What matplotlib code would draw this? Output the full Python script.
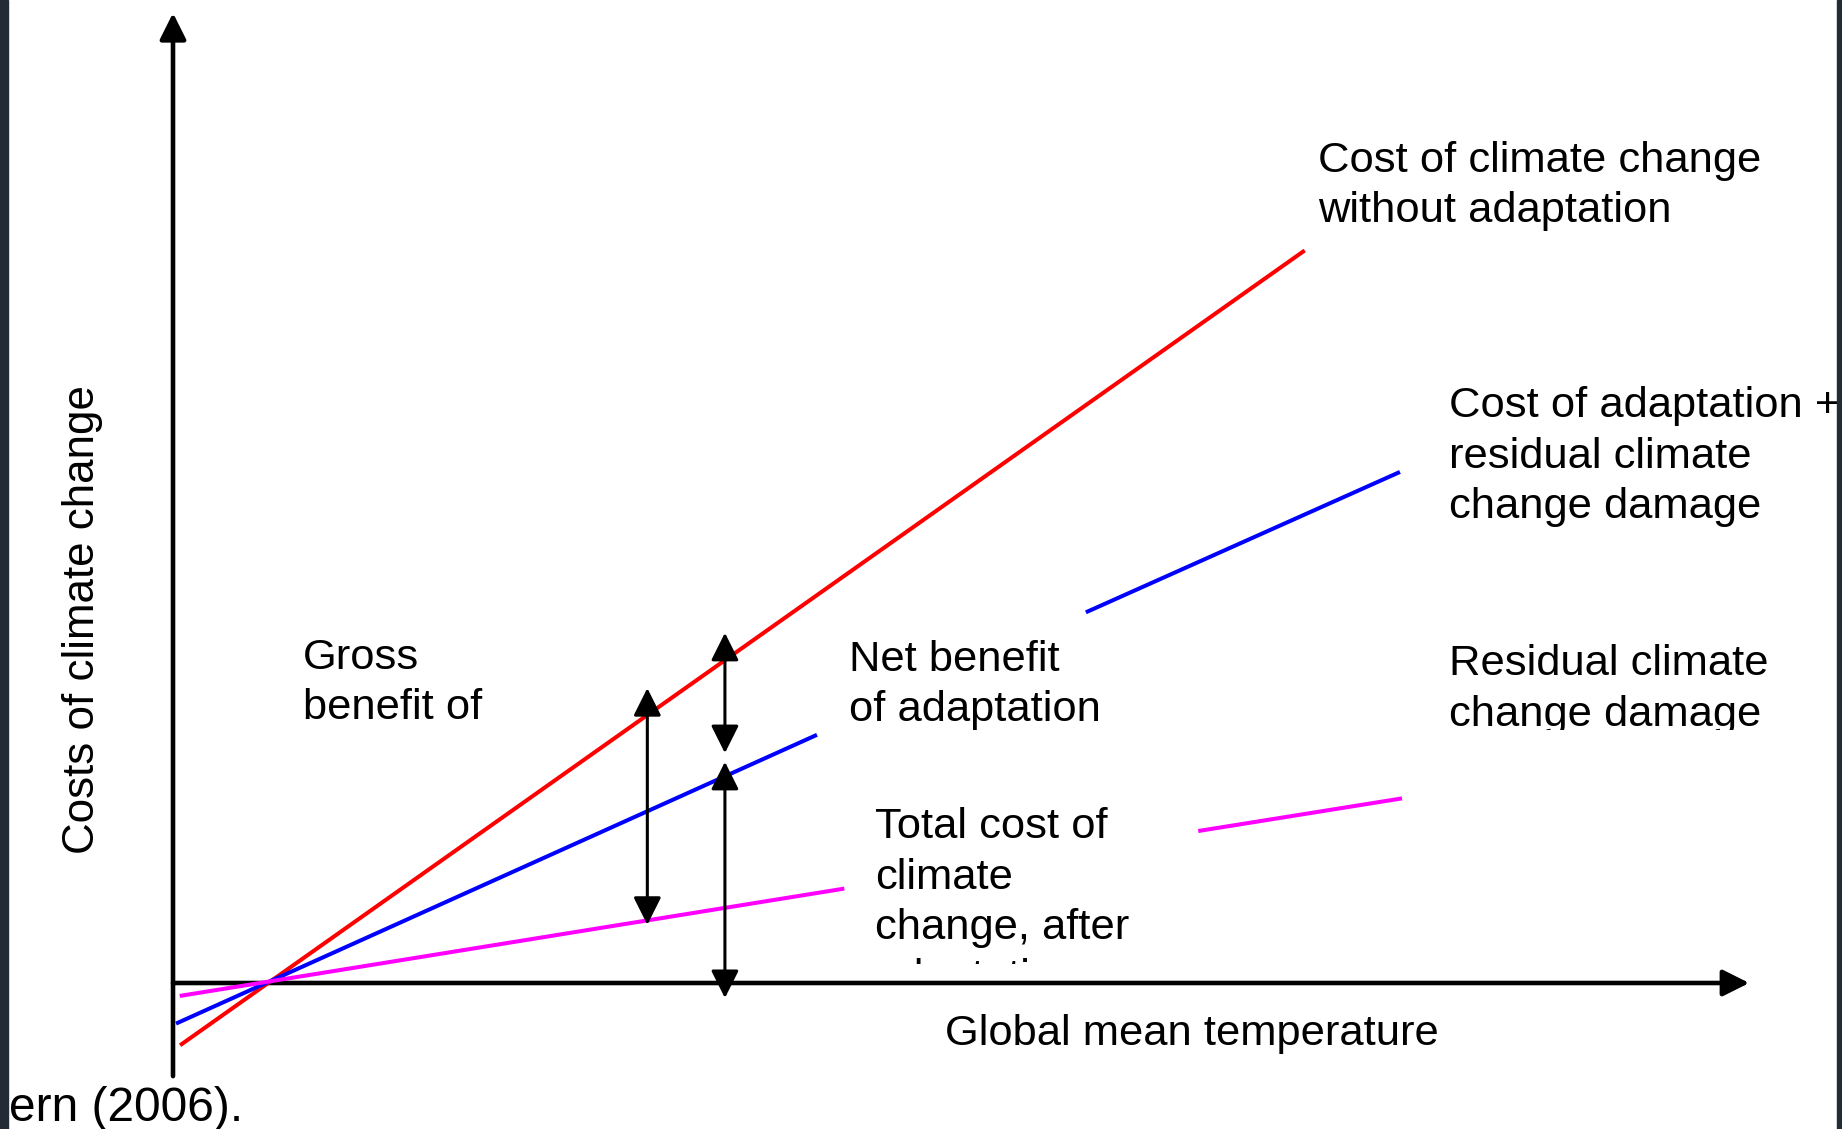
import numpy as np
import matplotlib
matplotlib.use("Agg")
import matplotlib.pyplot as plt
from matplotlib.patches import Rectangle
from matplotlib.transforms import Bbox, TransformedBbox

plt.rcParams['font.family'] = ['Liberation Sans', 'DejaVu Sans']

# Schematic: costs of climate change vs global mean temperature (units arbitrary)
# lines all cross the temperature axis at T = 1
temp_no_adapt = [0.09, 11.65]
cost_no_adapt = [-0.63, 7.54]

# gaps (nan) are where the labels sit on top of the lines
temp_with_adapt = [0.05, 6.62, np.nan, 9.43, 12.63]
cost_with_adapt = [-0.41, 2.55, np.nan, 3.83, 5.26]

temp_residual = [0.09, 6.90, np.nan, 10.59, 12.65]
cost_residual = [-0.13, 0.97, np.nan, 1.57, 1.90]

# double arrows: (temperature, top, bottom)
gross_arrow = (4.89, 3.04, 0.60)
net_arrow = (5.69, 3.61, 2.37)
total_arrow = (5.69, 2.28, -0.155)

x_axis_end = 16.25
y_axis_end = 10.0
y_axis_start = -0.96

W, H = 1842, 1129
fig = plt.figure(figsize=(W / 100, H / 100), dpi=100)
ax = fig.add_axes([0, 0, 1, 1])
# one data unit = 97 px, origin where the two axes meet
ax.set_xlim(-173 / 97, (W - 173) / 97)
ax.set_ylim((983 - H) / 97, 983 / 97)
ax.axis('off')

# axes with arrow heads
ax.annotate('', xy=(0, y_axis_end), xytext=(0, y_axis_start),
            arrowprops=dict(arrowstyle='-|>,head_length=16,head_width=8', lw=3.3,
                            color='black', shrinkA=0, shrinkB=0, mutation_scale=1))
ax.annotate('', xy=(x_axis_end, 0), xytext=(0, 0),
            arrowprops=dict(arrowstyle='-|>,head_length=16,head_width=8', lw=3.3,
                            color='black', shrinkA=0, shrinkB=0, mutation_scale=1))

ax.plot(temp_no_adapt, cost_no_adapt, color='#ff0000', lw=2.9, zorder=3)
ax.plot(temp_with_adapt, cost_with_adapt, color='#0000ff', lw=2.9, zorder=3)
ax.plot(temp_residual, cost_residual, color='#ff00ff', lw=2.9, zorder=3)

for t, top, bottom in [gross_arrow, net_arrow, total_arrow]:
    ax.annotate('', xy=(t, top), xytext=(t, bottom),
                arrowprops=dict(arrowstyle='<|-|>,head_length=17,head_width=8.5', lw=2.2,
                                color='black', shrinkA=0, shrinkB=0, mutation_scale=1),
                zorder=4)


def clip_below(txt, ymin):
    # agg only clips text to rectangles, so use a clip box in data space
    box = TransformedBbox(Bbox([[-5, ymin], [30, 30]]), ax.transData)
    txt.set_clip_box(box)
    txt.set_clip_on(True)


fs = 31.3
ls = 1.33
ax.text(11.80, 8.68, "Cost of climate change\nwithout adaptation", fontsize=fs,
        ha='left', va='top', linespacing=ls)
ax.text(13.15, 6.15, "Cost of adaptation +\nresidual climate\nchange damage", fontsize=fs,
        ha='left', va='top', linespacing=ls)
t_res = ax.text(13.15, 3.49, "Residual climate\nchange damage", fontsize=fs,
                ha='left', va='top', linespacing=ls)
clip_below(t_res, 2.61)
ax.text(6.97, 3.54, "Net benefit\nof adaptation", fontsize=fs,
        ha='left', va='top', linespacing=ls)
t_tot = ax.text(7.24, 1.81, "Total cost of\nclimate\nchange, after\nadaptation", fontsize=fs,
                ha='left', va='top', linespacing=ls)
clip_below(t_tot, 0.20)
ax.text(1.34, 3.56, "Gross\nbenefit of", fontsize=fs,
        ha='left', va='top', linespacing=ls)
ax.text(7.96, -0.32, "Global mean temperature", fontsize=fs, ha='left', va='top')
ax.text(-0.93, 3.75, "Costs of climate change", fontsize=31.6, rotation=90,
        ha='center', va='center')
ax.text(-1.69, -1.42, "ern (2006).", fontsize=34.5, ha='left', va='baseline')

# dark window edges
fig.add_artist(Rectangle((0, 0), 8 / W, 1, transform=fig.transFigure,
                         color='#252b36', zorder=10))
fig.add_artist(Rectangle((1 - 5 / W, 0), 5 / W, 1, transform=fig.transFigure,
                         color='#252b36', zorder=10))

fig.savefig("out.png", dpi=100)
